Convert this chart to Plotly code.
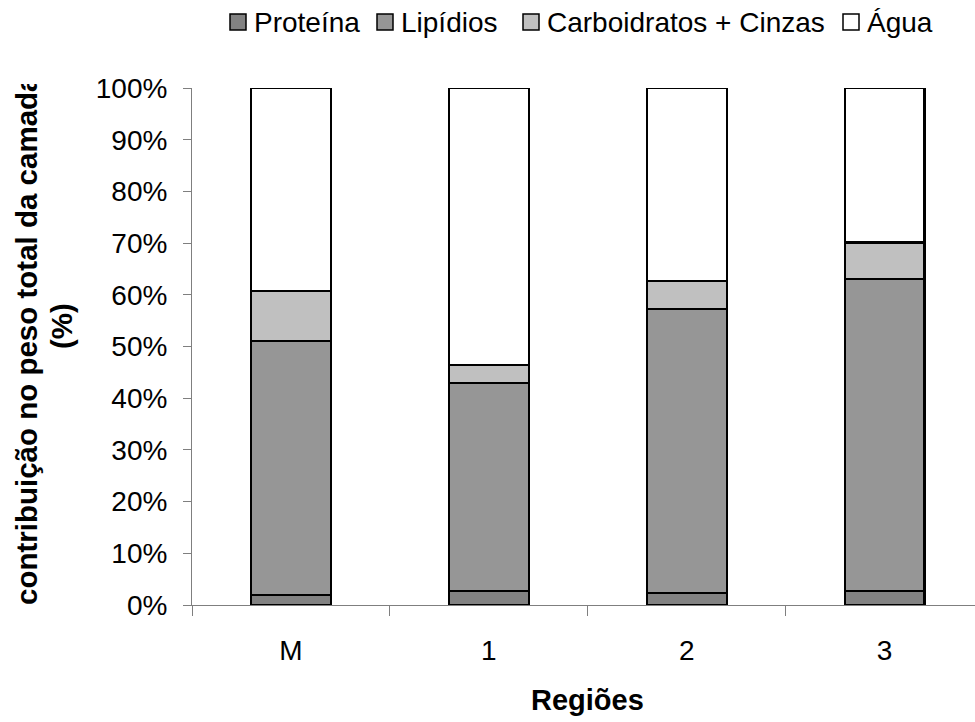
import plotly.graph_objects as go

# Regions sampled and the share of each component in the layer weight (%)
regioes = ["M", "1", "2", "3"]
componentes = ["Proteína", "Lipídios", "Carboidratos + Cinzas", "Água"]
proteina = [1.9, 2.7, 2.3, 2.7]
lipidios = [49.2, 40.3, 55.0, 60.4]
carboidratos_cinzas = [9.6, 3.5, 5.4, 7.0]
agua = [39.3, 53.5, 37.3, 29.9]
y_ticks = list(range(0, 101, 10))

series = [proteina, lipidios, carboidratos_cinzas, agua]
cores = ["#828282", "#969696", "#c0c0c0", "#ffffff"]

FONT = "Liberation Sans, Arial, sans-serif"
AXIS_COLOR = "#7f7f7f"

fig = go.Figure()
for nome, valores, cor in zip(componentes, series, cores):
    fig.add_trace(go.Bar(
        x=regioes, y=valores, name=nome,
        marker=dict(color=cor, line=dict(color="black", width=2.2)),
        width=0.404, showlegend=False,
    ))

# Page geometry (px) used to place the legend row and titles
W, H = 975, 722
L, R, T, B = 192, 0, 88, 117
pw, ph = W - L - R, H - T - B


def px_x(x):
    return (x - L) / pw


def px_y(y):
    return (H - B - y) / ph


# Legend row: swatch + label for each component
legend_x = [230, 377, 523, 843]
legend_y = 22
swatch = 16
shapes, annotations = [], []
for nome, cor, lx in zip(componentes, cores, legend_x):
    shapes.append(dict(
        type="rect", xref="paper", yref="paper",
        x0=px_x(lx), x1=px_x(lx + swatch),
        y0=px_y(legend_y + swatch / 2), y1=px_y(legend_y - swatch / 2),
        fillcolor=cor, line=dict(color="black", width=1.5), layer="above",
    ))
    annotations.append(dict(
        text=nome, xref="paper", yref="paper", x=px_x(lx + swatch + 6), y=px_y(legend_y),
        xanchor="left", yanchor="middle", showarrow=False,
        font=dict(family=FONT, size=28, color="black"),
    ))

# Axis titles
annotations.append(dict(
    text="<b>Regiões</b>", xref="paper", yref="paper",
    x=px_x(587), y=px_y(700), xanchor="center", yanchor="middle", showarrow=False,
    font=dict(family=FONT, size=29, color="black"),
))
annotations.append(dict(
    text="<b>contribuição no peso total da camada</b>",
    xref="paper", yref="paper", x=px_x(26), y=px_y(607), textangle=-90,
    xanchor="center", yanchor="bottom", showarrow=False,
    font=dict(family=FONT, size=29.5, color="black"),
))
annotations.append(dict(
    text="<b>(%)</b>",
    xref="paper", yref="paper", x=px_x(61), y=px_y(326), textangle=-90,
    xanchor="center", yanchor="middle", showarrow=False,
    font=dict(family=FONT, size=29.5, color="black"),
))
# the y title box is cut off at the top edge of the plot area
annotations.append(dict(
    text=" ", xref="paper", yref="paper", x=px_x(0), y=px_y(0),
    xanchor="left", yanchor="top", showarrow=False,
    width=80, height=84, bgcolor="white", borderpad=0, borderwidth=0,
))

fig.update_layout(
    barmode="stack",
    width=W, height=H,
    margin=dict(l=L, r=R, t=T, b=B, pad=0),
    paper_bgcolor="white", plot_bgcolor="white",
    font=dict(family=FONT, size=28, color="black"),
    shapes=shapes, annotations=annotations,
    showlegend=False,
)
fig.update_xaxes(
    range=[-0.5, 3.457], showgrid=False, zeroline=False,
    showline=True, linecolor=AXIS_COLOR, linewidth=1,
    ticks="outside", tickson="boundaries", ticklen=10, tickcolor=AXIS_COLOR,
    ticklabelstandoff=20, tickfont=dict(family=FONT, size=28, color="black"),
)
fig.update_yaxes(
    range=[0, 100], tickvals=y_ticks, ticktext=[f"{v}%" for v in y_ticks],
    showgrid=False, zeroline=False,
    showline=True, linecolor=AXIS_COLOR, linewidth=1,
    ticks="outside", ticklen=8, tickcolor=AXIS_COLOR,
    ticklabelstandoff=10, tickfont=dict(family=FONT, size=28, color="black"),
)

fig.write_html("out.html")
